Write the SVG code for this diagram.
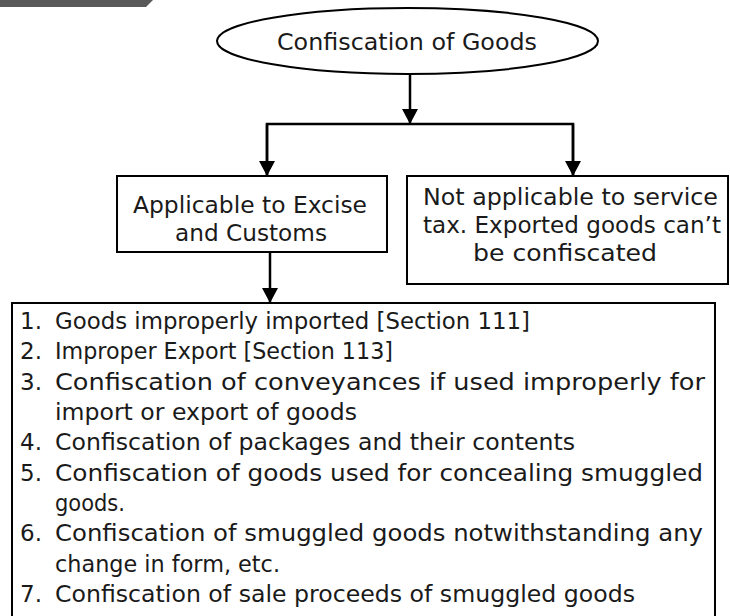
<svg xmlns="http://www.w3.org/2000/svg" width="730" height="616" viewBox="0 0 730 616">
<style>
.t{font-family:"DejaVu Sans","Liberation Sans",sans-serif;font-size:23px;fill:#1a1a1a}
.box{fill:#fff;stroke:#000;stroke-width:2}
.ln{fill:none;stroke:#000;stroke-width:2.5}
</style>
<defs>
<marker id="ah" markerUnits="userSpaceOnUse" markerWidth="18" markerHeight="16" refX="15" refY="8" orient="auto">
<path d="M0,0 L15,8 L0,16 Z" fill="#000"/>
</marker>
</defs>
<polygon points="0,0 153,0 146,7 0,7" fill="#595959"/>
<g id="connectors">
<line class="ln" x1="410" y1="75" x2="410" y2="124" marker-end="url(#ah)"/>
<polyline class="ln" points="267,176 267,124 573,124 573,176"/>
<line class="ln" x1="267" y1="124" x2="267" y2="176" marker-end="url(#ah)"/>
<line class="ln" x1="573" y1="124" x2="573" y2="176" marker-end="url(#ah)"/>
<line class="ln" x1="270" y1="252" x2="270" y2="303" marker-end="url(#ah)"/>
</g>
<g id="n-root">
<ellipse cx="407.5" cy="41" rx="190.5" ry="33" class="box"/>
<text class="t" x="277" y="50" textLength="260" lengthAdjust="spacingAndGlyphs">Confiscation of Goods</text>
</g>
<g id="n-applicable">
<rect x="117" y="176" width="270" height="76" class="box"/>
<text class="t" x="133" y="213" textLength="234" lengthAdjust="spacingAndGlyphs">Applicable to Excise</text>
<text class="t" x="175" y="241" textLength="152" lengthAdjust="spacingAndGlyphs">and Customs</text>
</g>
<g id="n-notapplicable">
<rect x="407" y="176" width="321" height="108" class="box"/>
<text class="t" x="423" y="205" textLength="295" lengthAdjust="spacingAndGlyphs">Not applicable to service</text>
<text class="t" x="423" y="233" textLength="298" lengthAdjust="spacingAndGlyphs">tax. Exported goods can’t</text>
<text class="t" x="473" y="261" textLength="184" lengthAdjust="spacingAndGlyphs">be confiscated</text>
</g>
<g id="n-list">
<rect x="12" y="303" width="703" height="318" class="box"/>
<text class="t" x="20" y="329">1.</text>
<text class="t" x="55" y="329" textLength="475" lengthAdjust="spacingAndGlyphs">Goods improperly imported [Section 111]</text>
<text class="t" x="20" y="359">2.</text>
<text class="t" x="55" y="359" textLength="338" lengthAdjust="spacingAndGlyphs">Improper Export [Section 113]</text>
<text class="t" x="20" y="390">3.</text>
<text class="t" x="55" y="390" textLength="650" lengthAdjust="spacingAndGlyphs">Confiscation of conveyances if used improperly for</text>
<text class="t" x="55" y="420" textLength="302" lengthAdjust="spacingAndGlyphs">import or export of goods</text>
<text class="t" x="20" y="450">4.</text>
<text class="t" x="55" y="450" textLength="520" lengthAdjust="spacingAndGlyphs">Confiscation of packages and their contents</text>
<text class="t" x="20" y="481">5.</text>
<text class="t" x="55" y="481" textLength="648" lengthAdjust="spacingAndGlyphs">Confiscation of goods used for concealing smuggled</text>
<text class="t" x="55" y="511" textLength="70" lengthAdjust="spacingAndGlyphs">goods.</text>
<text class="t" x="20" y="541">6.</text>
<text class="t" x="55" y="541" textLength="648" lengthAdjust="spacingAndGlyphs">Confiscation of smuggled goods notwithstanding any</text>
<text class="t" x="55" y="572" textLength="225" lengthAdjust="spacingAndGlyphs">change in form, etc.</text>
<text class="t" x="20" y="602">7.</text>
<text class="t" x="55" y="602" textLength="580" lengthAdjust="spacingAndGlyphs">Confiscation of sale proceeds of smuggled goods</text>
</g>
</svg>
